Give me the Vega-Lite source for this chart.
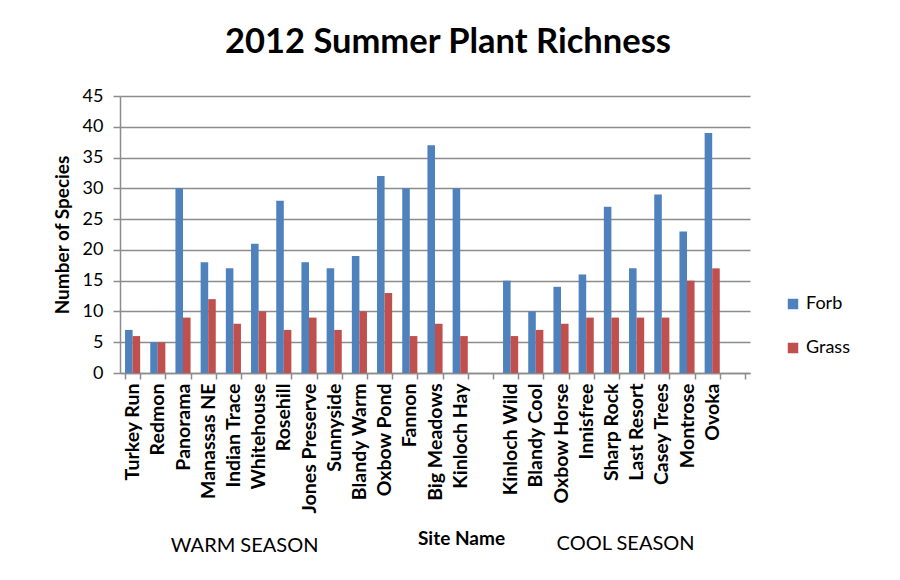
{
  "$schema": "https://vega.github.io/schema/vega-lite/v6.json",
  "width": 630,
  "height": 277,
  "autosize": {"type": "none"},
  "padding": {"left": 120, "top": 96, "right": 150, "bottom": 207},
  "background": "white",
  "config": {
    "font": "Lato",
    "view": {"stroke": null},
    "axis": {"labelColor": "black", "titleColor": "black"},
    "axisX": {
      "titleFontSize": 19,
      "titleFontWeight": "bold",
      "titleX": 341,
      "titleY": 165,
      "titleBaseline": "middle",
      "labelAngle": -90,
      "labelFontSize": 19.5,
      "labelFontWeight": "bold",
      "labelPadding": 4,
      "labelBaseline": "middle",
      "labelOverlap": false,
      "domainColor": "#8c8c8c",
      "domainWidth": 1.5,
      "tickColor": "#8c8c8c",
      "tickWidth": 1.5,
      "tickSize": 6,
      "tickBand": "extent",
      "grid": false
    },
    "axisY": {
      "titleFontSize": 19,
      "titleFontWeight": "bold",
      "titlePadding": 10,
      "tickCount": 10,
      "labelOverlap": false,
      "labelFontSize": 18,
      "labelFontWeight": "normal",
      "labelPadding": 10,
      "domainColor": "#8c8c8c",
      "domainWidth": 1.5,
      "tickColor": "#8c8c8c",
      "tickWidth": 1.5,
      "tickSize": 7,
      "gridColor": "#8c8c8c",
      "gridWidth": 1.5
    }
  },
  "title": {
    "text": "2012 Summer Plant Richness",
    "fontSize": 34.5,
    "fontWeight": "bold",
    "font": "Lato",
    "color": "black",
    "dx": 13,
    "offset": 27
  },
  "layer": [
    {
      "data": {
        "values": [
          {"site": "Turkey Run", "type": "Forb", "count": 7},
          {"site": "Turkey Run", "type": "Grass", "count": 6},
          {"site": "Redmon", "type": "Forb", "count": 5},
          {"site": "Redmon", "type": "Grass", "count": 5},
          {"site": "Panorama", "type": "Forb", "count": 30},
          {"site": "Panorama", "type": "Grass", "count": 9},
          {"site": "Manassas NE", "type": "Forb", "count": 18},
          {"site": "Manassas NE", "type": "Grass", "count": 12},
          {"site": "Indian Trace", "type": "Forb", "count": 17},
          {"site": "Indian Trace", "type": "Grass", "count": 8},
          {"site": "Whitehouse", "type": "Forb", "count": 21},
          {"site": "Whitehouse", "type": "Grass", "count": 10},
          {"site": "Rosehill", "type": "Forb", "count": 28},
          {"site": "Rosehill", "type": "Grass", "count": 7},
          {"site": "Jones Preserve", "type": "Forb", "count": 18},
          {"site": "Jones Preserve", "type": "Grass", "count": 9},
          {"site": "Sunnyside", "type": "Forb", "count": 17},
          {"site": "Sunnyside", "type": "Grass", "count": 7},
          {"site": "Blandy Warm", "type": "Forb", "count": 19},
          {"site": "Blandy Warm", "type": "Grass", "count": 10},
          {"site": "Oxbow Pond", "type": "Forb", "count": 32},
          {"site": "Oxbow Pond", "type": "Grass", "count": 13},
          {"site": "Fannon", "type": "Forb", "count": 30},
          {"site": "Fannon", "type": "Grass", "count": 6},
          {"site": "Big Meadows", "type": "Forb", "count": 37},
          {"site": "Big Meadows", "type": "Grass", "count": 8},
          {"site": "Kinloch Hay", "type": "Forb", "count": 30},
          {"site": "Kinloch Hay", "type": "Grass", "count": 6},
          {"site": "Kinloch Wild", "type": "Forb", "count": 15},
          {"site": "Kinloch Wild", "type": "Grass", "count": 6},
          {"site": "Blandy Cool", "type": "Forb", "count": 10},
          {"site": "Blandy Cool", "type": "Grass", "count": 7},
          {"site": "Oxbow Horse", "type": "Forb", "count": 14},
          {"site": "Oxbow Horse", "type": "Grass", "count": 8},
          {"site": "Innisfree", "type": "Forb", "count": 16},
          {"site": "Innisfree", "type": "Grass", "count": 9},
          {"site": "Sharp Rock", "type": "Forb", "count": 27},
          {"site": "Sharp Rock", "type": "Grass", "count": 9},
          {"site": "Last Resort", "type": "Forb", "count": 17},
          {"site": "Last Resort", "type": "Grass", "count": 9},
          {"site": "Casey Trees", "type": "Forb", "count": 29},
          {"site": "Casey Trees", "type": "Grass", "count": 9},
          {"site": "Montrose", "type": "Forb", "count": 23},
          {"site": "Montrose", "type": "Grass", "count": 15},
          {"site": "Ovoka", "type": "Forb", "count": 39},
          {"site": "Ovoka", "type": "Grass", "count": 17}
        ]
      },
      "mark": {"type": "bar"},
      "encoding": {
        "x": {
          "field": "site",
          "type": "nominal",
          "scale": {
            "domain": ["Turkey Run", "Redmon", "Panorama", "Manassas NE", "Indian Trace", "Whitehouse", "Rosehill", "Jones Preserve", "Sunnyside", "Blandy Warm", "Oxbow Pond", "Fannon", "Big Meadows", "Kinloch Hay", " ", "Kinloch Wild", "Blandy Cool", "Oxbow Horse", "Innisfree", "Sharp Rock", "Last Resort", "Casey Trees", "Montrose", "Ovoka", "  "],
            "paddingInner": 0.4,
            "paddingOuter": 0.2
          },
          "axis": {"title": "Site Name"}
        },
        "xOffset": {"field": "type", "type": "nominal", "scale": {"paddingInner": 0, "paddingOuter": 0}},
        "y": {
          "field": "count",
          "type": "quantitative",
          "scale": {"domain": [0, 45], "nice": false},
          "axis": {"title": "Number of Species"}
        },
        "color": {
          "field": "type",
          "type": "nominal",
          "scale": {"domain": ["Forb", "Grass"], "range": ["#4F81BD", "#C0504D"]},
          "legend": {
            "title": null,
            "orient": "none",
            "legendX": 664,
            "legendY": 199,
            "symbolType": "square",
            "symbolSize": 110,
            "labelFontSize": 18,
            "rowPadding": 26,
            "labelOffset": 4
          }
        }
      }
    },
    {
      "data": {"values": [{"season": "WARM SEASON"}]},
      "mark": {"type": "text", "fontSize": 20, "baseline": "middle", "align": "center", "clip": false, "dx": -14, "color": "black"},
      "encoding": {
        "x": {"datum": "Whitehouse"},
        "y": {"datum": -28.1},
        "text": {"field": "season"}
      }
    },
    {
      "data": {"values": [{"season": "COOL SEASON"}]},
      "mark": {"type": "text", "fontSize": 20, "baseline": "middle", "align": "center", "clip": false, "dx": -11, "color": "black"},
      "encoding": {
        "x": {"datum": "Last Resort"},
        "y": {"datum": -27.8},
        "text": {"field": "season"}
      }
    }
  ]
}
